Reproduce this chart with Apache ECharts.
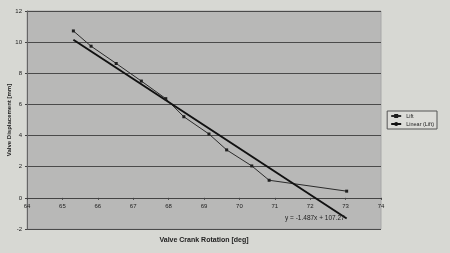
<!DOCTYPE html>
<html>
<head>
<meta charset="utf-8">
<script src="https://cdn.jsdelivr.net/npm/echarts@6/dist/echarts.min.js"></script>
<style>
  html, body { margin: 0; padding: 0; background: #d7d8d3; }
  #chart { width: 450px; height: 253px; }
</style>
</head>
<body>
<div id="chart"></div>
<script>
// measured crank angle vs valve lift
var rotation = [65.31, 65.81, 66.52, 67.23, 67.92, 68.43, 69.14, 69.64, 70.35, 70.84, 73.03];
var lift = [10.72, 9.74, 8.63, 7.5, 6.37, 5.21, 4.1, 3.08, 2.05, 1.13, 0.43];
// trendline from the chart label
var slope = -1.487;
var intercept = 107.27;
var trendLabel = 'y = -1.487x + 107.27';

var yMin = -2, yMax = 12;
var gridTop = 11, gridBottom = 24, chartH = 253;

var liftData = rotation.map(function (x, i) { return [x, lift[i]]; });
var xFirst = rotation[0];
var xLast = rotation[rotation.length - 1];
var trendData = [
  [xFirst, slope * xFirst + intercept],
  { value: [xLast, slope * xLast + intercept],
    label: { show: true, position: 'left', distance: 2, formatter: trendLabel,
             fontSize: 6.5, color: '#222', fontFamily: 'Liberation Sans' } }
];

// x axis sits on y = 0 (excel style)
var plotH = chartH - gridTop - gridBottom;
var zeroOffset = -(0 - yMin) / (yMax - yMin) * plotH;

var chart = echarts.init(document.getElementById('chart'));
chart.setOption({
  backgroundColor: '#d7d8d3',
  animation: false,
  textStyle: { fontFamily: 'Liberation Sans' },
  grid: {
    left: 27, right: 69, top: gridTop, bottom: gridBottom,
    outerBoundsMode: 'none',
    containLabel: false,
    show: true,
    backgroundColor: '#b8b8b7',
    borderColor: '#a8a8a8',
    borderWidth: 1
  },
  legend: {
    right: 13, top: 111,
    orient: 'vertical',
    itemWidth: 10, itemHeight: 5, itemGap: 2,
    padding: [2, 3],
    borderColor: '#555', borderWidth: 1,
    backgroundColor: '#dcdcd8',
    textStyle: { fontSize: 5.5, color: '#222' },
    data: ['Lift', 'Linear (Lift)']
  },
  xAxis: {
    type: 'value',
    min: 64, max: 74, interval: 1,
    offset: zeroOffset,
    name: 'Valve Crank Rotation [deg]',
    nameLocation: 'middle',
    nameGap: 39,
    nameMoveOverlap: false,
    nameTextStyle: { fontSize: 7, color: '#222', fontWeight: 'bold' },
    axisLine: { onZero: false, lineStyle: { color: '#444' } },
    axisTick: { show: true, length: 2, lineStyle: { color: '#444' } },
    axisLabel: { fontSize: 6, color: '#222', margin: 5 },
    splitLine: { show: false }
  },
  yAxis: {
    type: 'value',
    min: yMin, max: yMax, interval: 2,
    name: 'Valve Displacement [mm]',
    nameLocation: 'middle',
    nameGap: 15,
    nameMoveOverlap: false,
    nameTextStyle: { fontSize: 6, color: '#222', fontWeight: 'bold' },
    axisLine: { show: true, onZero: false, lineStyle: { color: '#666' } },
    axisTick: { show: true, length: 2, lineStyle: { color: '#444' } },
    axisLabel: { fontSize: 6, color: '#222', margin: 5 },
    splitLine: { show: true, lineStyle: { color: '#4a4a4a', width: 1 } }
  },
  series: [
    {
      name: 'Lift',
      type: 'line',
      data: liftData,
      symbol: 'rect',
      symbolSize: 3,
      itemStyle: { color: '#1e1e1e' },
      lineStyle: { color: '#2a2a2a', width: 1 }
    },
    {
      name: 'Linear (Lift)',
      type: 'line',
      data: trendData,
      symbol: 'circle',
      symbolSize: 0,
      showSymbol: true,
      itemStyle: { color: '#111' },
      lineStyle: { color: '#111', width: 2 }
    }
  ]
});
</script>
</body>
</html>
